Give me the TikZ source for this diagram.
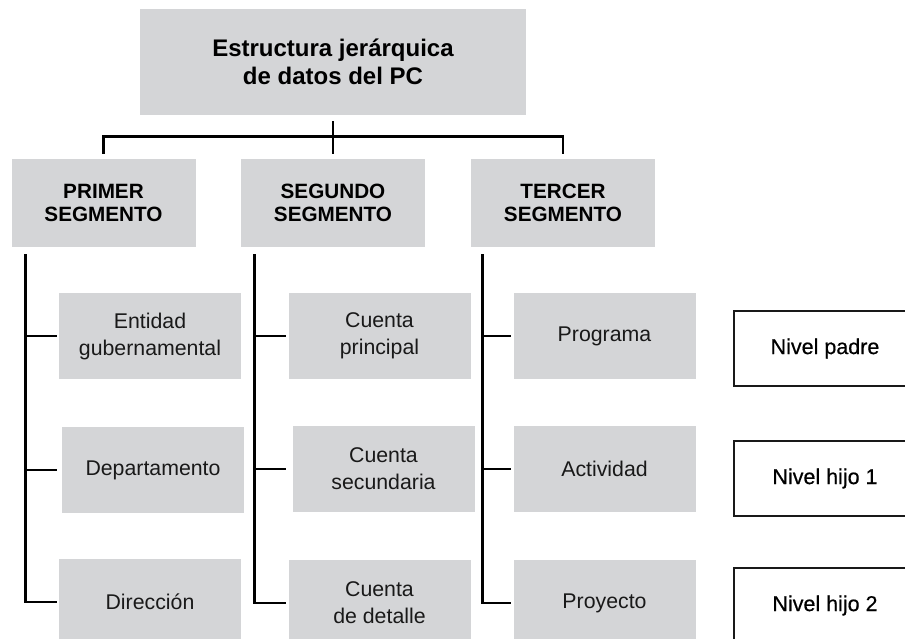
\documentclass[tikz,border=0pt]{standalone}
\usepackage{fontspec}
\setmainfont{Liberation Sans}
\newfontfamily\medfont[FakeBold=0.5]{Liberation Sans}
\definecolor{boxgray}{RGB}{212,213,215}
\definecolor{txt}{RGB}{25,25,25}
\definecolor{edge}{RGB}{25,25,25}
\begin{document}
\begin{tikzpicture}[x=1pt,y=-1pt,
  conn/.style={draw=black,line width=2.9pt},
  titlebox/.style={fill=boxgray,minimum width=386pt,minimum height=106pt,align=center,
    font=\bfseries\fontsize{24}{28.5}\selectfont,text=black,inner sep=0pt},
  segbox/.style={fill=boxgray,minimum width=184pt,minimum height=88pt,align=center,
    font=\bfseries\fontsize{20.7}{23.5}\selectfont,text=black,inner sep=0pt},
  itembox/.style={fill=boxgray,minimum width=182pt,minimum height=86pt,align=center,
    font=\fontsize{21.3}{27}\selectfont,text=txt,inner sep=0pt},
  levelbox/.style={draw=edge,line width=2.2pt,fill=white,minimum width=182pt,minimum height=75pt,align=center,
    font=\medfont\fontsize{21.5}{26}\selectfont,text=black,inner sep=0pt}]
\useasboundingbox (0,0) rectangle (905,639);
\clip (0,0) rectangle (905,639);

\node[titlebox] (title) at (333,62) {Estructura jerárquica\\de datos del PC};

\node[segbox] (s1) at (103.5,203) {PRIMER\\SEGMENTO};
\node[segbox] (s2) at (333,203) {SEGUNDO\\SEGMENTO};
\node[segbox] (s3) at (563,203) {TERCER\\SEGMENTO};

\node[itembox] (e11) at (150,336) {Entidad\\gubernamental};
\node[itembox] (e12) at (153,470) {Departamento};
\node[itembox] (e13) at (150,602) {Dirección};

\node[itembox] (e21) at (379.5,336) {Cuenta\\principal};
\node[itembox] (e22) at (383.5,469) {Cuenta\\secundaria};
\node[itembox] (e23) at (379.5,603) {Cuenta\\de detalle};

\node[itembox] (e31) at (604.5,336) {Programa};
\node[itembox] (e32) at (604.5,469) {Actividad};
\node[itembox] (e33) at (604.5,603) {Proyecto};

\node[levelbox] (n1) at (825,348.5) {Nivel padre};
\node[levelbox] (n2) at (825,478.5) {Nivel hijo 1};
\node[levelbox] (n3) at (825,605.5) {Nivel hijo 2};

% top tree
\draw[conn] ([yshift=-6pt]title.south) -- ([yshift=5pt]s2.north);
\draw[conn] ([yshift=5pt]s1.north) |- ([yshift=22pt]s2.north) -| ([yshift=5pt]s3.north);

% column 1
\draw[conn] ([xshift=14pt,yshift=-7pt]s1.south west) |- ([xshift=-2pt]e13.west);
\draw[conn] ([xshift=14pt]s1.south west |- e11.west) -- ([xshift=-2pt]e11.west);
\draw[conn] ([xshift=14pt]s1.south west |- e12.west) -- ([xshift=-5pt]e12.west);

% column 2
\draw[conn] ([xshift=14pt,yshift=-7pt]s2.south west) |- ([xshift=-2pt]e23.west);
\draw[conn] ([xshift=14pt]s2.south west |- e21.west) -- ([xshift=-2pt]e21.west);
\draw[conn] ([xshift=14pt]s2.south west |- e22.west) -- ([xshift=-6pt]e22.west);

% column 3
\draw[conn] ([xshift=12pt,yshift=-7pt]s3.south west) |- ([xshift=-2pt]e33.west);
\draw[conn] ([xshift=12pt]s3.south west |- e31.west) -- ([xshift=-2pt]e31.west);
\draw[conn] ([xshift=12pt]s3.south west |- e32.west) -- ([xshift=-2pt]e32.west);
\end{tikzpicture}
\end{document}
